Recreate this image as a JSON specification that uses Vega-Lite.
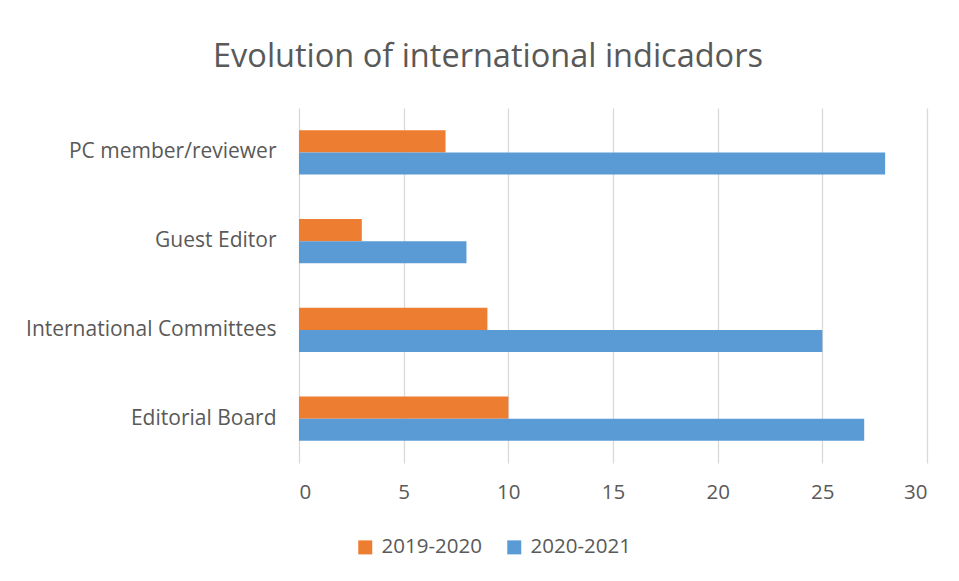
{
  "$schema": "https://vega.github.io/schema/vega-lite/v6.json",
  "autosize": {"type": "none"},
  "width": 628,
  "height": 355,
  "padding": {"left": 299, "top": 108, "right": 32, "bottom": 118},
  "background": "white",
  "title": {
    "text": "Evolution of international indicadors",
    "font": "Open Sans",
    "fontSize": 32.5,
    "fontWeight": "normal",
    "color": "#595959",
    "anchor": "middle",
    "dx": -125,
    "offset": 35
  },
  "data": {
    "values": [
      {"category": "PC member/reviewer", "series": "2019-2020", "value": 7},
      {"category": "PC member/reviewer", "series": "2020-2021", "value": 28},
      {"category": "Guest Editor", "series": "2019-2020", "value": 3},
      {"category": "Guest Editor", "series": "2020-2021", "value": 8},
      {"category": "International Committees", "series": "2019-2020", "value": 9},
      {"category": "International Committees", "series": "2020-2021", "value": 25},
      {"category": "Editorial Board", "series": "2019-2020", "value": 10},
      {"category": "Editorial Board", "series": "2020-2021", "value": 27}
    ]
  },
  "mark": {"type": "bar"},
  "encoding": {
    "y": {
      "field": "category",
      "type": "nominal",
      "sort": ["PC member/reviewer", "Guest Editor", "International Committees", "Editorial Board"],
      "scale": {"paddingInner": 0.5, "paddingOuter": 0.25},
      "axis": {
        "title": null,
        "domain": false,
        "ticks": false,
        "labelPadding": 23,
        "labelFont": "Open Sans",
        "labelFontSize": 21,
        "labelColor": "#595959",
        "labelLimit": 400
      }
    },
    "yOffset": {
      "field": "series",
      "type": "nominal",
      "sort": ["2019-2020", "2020-2021"],
      "scale": {"paddingInner": 0, "paddingOuter": 0}
    },
    "x": {
      "field": "value",
      "type": "quantitative",
      "scale": {"domain": [0, 30], "nice": false},
      "axis": {
        "title": null,
        "values": [0, 5, 10, 15, 20, 25, 30],
        "domain": false,
        "ticks": false,
        "grid": true,
        "gridColor": "#D9D9D9",
        "gridWidth": 1.3,
        "labelPadding": 19,
        "labelFont": "Open Sans",
        "labelFontSize": 20.5,
        "labelColor": "#595959"
      }
    },
    "color": {
      "field": "series",
      "type": "nominal",
      "scale": {"domain": ["2019-2020", "2020-2021"], "range": ["#ED7D31", "#5B9BD5"]},
      "legend": {
        "title": null,
        "orient": "none",
        "legendX": 56,
        "legendY": 429,
        "direction": "horizontal",
        "symbolType": "square",
        "symbolSize": 196,
        "symbolStrokeWidth": 0,
        "labelFont": "Open Sans",
        "labelFontSize": 20.5,
        "labelColor": "#595959",
        "columnPadding": 22,
        "labelOffset": 6
      }
    }
  },
  "config": {
    "view": {"stroke": null}
  }
}
